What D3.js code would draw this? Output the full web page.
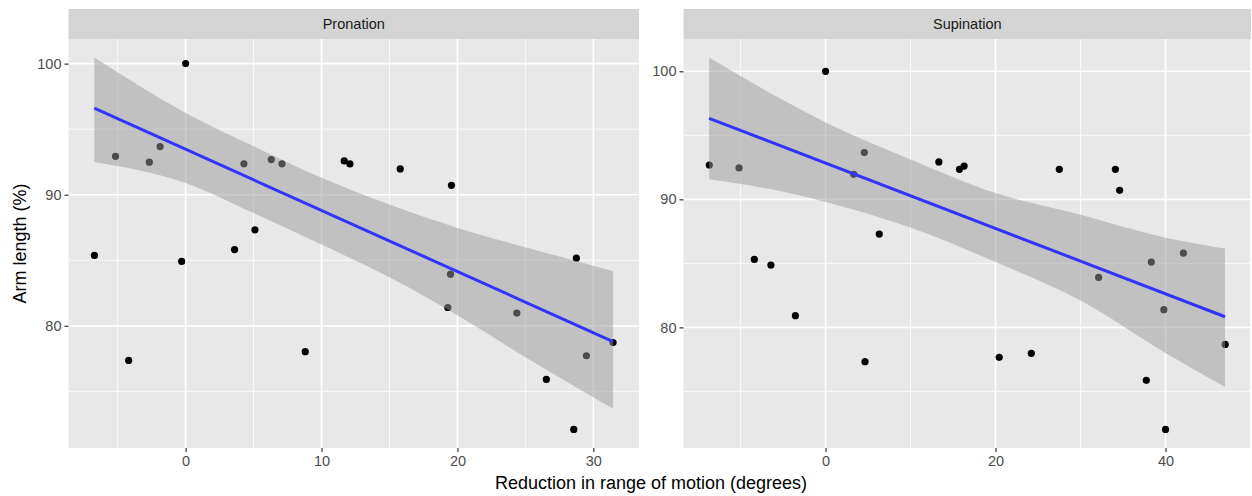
<!DOCTYPE html>
<html>
<head>
<meta charset="utf-8">
<script src="https://cdn.jsdelivr.net/npm/d3@7"></script>
<style>
  body { margin: 0; background: #fff; }
  text { font-family: "Liberation Sans", Arial, sans-serif; }
</style>
</head>
<body>
<svg id="chart" width="1252" height="496"></svg>
<script>
// points
var pronX = [-6.71, -5.16, -4.19, -2.67, -1.88, 0, -0.29, 3.6, 4.29, 5.1, 6.3, 7.09, 8.8,
             11.67, 12.09, 15.79, 19.56, 19.49, 19.29, 24.37, 26.54, 28.75, 28.56, 29.49, 31.45];
var pronY = [85.37, 92.93, 77.36, 92.48, 93.67, 100, 84.91, 85.82, 92.36, 87.32, 92.68, 92.36, 78.03,
             92.58, 92.35, 91.97, 90.72, 83.94, 81.4, 80.97, 75.91, 85.16, 72.1, 77.72, 78.73];

var supX = [-13.68, -10.18, 0, 3.31, 4.56, 6.32, 13.33, 15.75, 16.3, 27.5, 34.1, 34.6, -8.38,
            -6.43, -3.55, 4.64, 32.13, 38.32, 42.1, 39.8, 47.02, 20.43, 24.21, 37.74, 40.0];
var supY = [92.68, 92.45, 100, 91.95, 93.65, 87.29, 92.92, 92.34, 92.6, 92.34, 92.34, 90.7, 85.31,
            84.87, 80.91, 77.32, 83.9, 85.1, 85.8, 81.38, 78.67, 77.66, 77.97, 75.86, 72.03];

// fitted line and confidence band, also
var pronLineX = [-6.72, 31.45];
var pronLineY = [96.6, 78.8];
var pronBandX = [-6.72, 0, 5, 10, 15, 20, 25, 31.45];
var pronHi = [100.46, 96.24, 93.7, 91.29, 89.25, 87.47, 86.0, 84.17];
var pronLo = [92.5, 90.9, 88.6, 86.2, 83.7, 80.8, 77.6, 73.68];

var supLineX = [-13.7, 47.0];
var supLineY = [96.33, 80.83];
var supBandX = [-13.7, -5, 0, 10, 20, 30, 40, 47];
var supHi = [101.07, 97.75, 96.0, 93.12, 90.5, 88.8, 87.0, 86.15];
var supLo = [91.56, 90.6, 89.8, 87.8, 85.1, 82.1, 78.0, 75.34];

var facets = ["Pronation", "Supination"];
var pronXTicks = [0, 10, 20, 30];
var supXTicks = [0, 20, 40];
var yTicks = [80, 90, 100];

var svg = d3.select("#chart");
var plotTop = 39, plotBottom = 448, stripTop = 9;

var panels = [
  {name: facets[0], xs: pronX, ys: pronY, xTicks: pronXTicks, left: 68.5, right: 639,
   lineX: pronLineX, lineY: pronLineY, bandX: pronBandX, hi: pronHi, lo: pronLo},
  {name: facets[1], xs: supX, ys: supY, xTicks: supXTicks, left: 683.5, right: 1251,
   lineX: supLineX, lineY: supLineY, bandX: supBandX, hi: supHi, lo: supLo}
];

function expand(ext) {
  var w = ext[1] - ext[0];
  return [ext[0] - 0.05 * w, ext[1] + 0.05 * w];
}

function minors(ticks, domain) {
  var step = ticks[1] - ticks[0], out = [];
  for (var v = ticks[0] - step / 2; v >= domain[0]; v -= step) out.push(v);
  for (var w = ticks[0] + step / 2; w <= domain[1]; w += step) out.push(w);
  return out;
}

panels.forEach(function(p) {
  var x = d3.scaleLinear().domain(expand(d3.extent(p.xs))).range([p.left, p.right]);
  var y = d3.scaleLinear()
      .domain(expand(d3.extent(p.ys.concat(p.hi, p.lo))))
      .range([plotBottom, plotTop]);

  var g = svg.append("g");

  g.append("rect")
      .attr("x", p.left).attr("y", plotTop)
      .attr("width", p.right - p.left).attr("height", plotBottom - plotTop)
      .attr("fill", "#E8E8E8");

  // minor grid
  minors(p.xTicks, x.domain()).forEach(function(v) {
    g.append("line").attr("x1", x(v)).attr("x2", x(v)).attr("y1", plotTop).attr("y2", plotBottom)
        .attr("stroke", "#fff").attr("stroke-width", 0.8);
  });
  minors(yTicks, y.domain()).forEach(function(v) {
    g.append("line").attr("y1", y(v)).attr("y2", y(v)).attr("x1", p.left).attr("x2", p.right)
        .attr("stroke", "#fff").attr("stroke-width", 0.8);
  });
  // major grid
  p.xTicks.forEach(function(v) {
    g.append("line").attr("x1", x(v)).attr("x2", x(v)).attr("y1", plotTop).attr("y2", plotBottom)
        .attr("stroke", "#fff").attr("stroke-width", 1.6);
  });
  yTicks.forEach(function(v) {
    g.append("line").attr("y1", y(v)).attr("y2", y(v)).attr("x1", p.left).attr("x2", p.right)
        .attr("stroke", "#fff").attr("stroke-width", 1.6);
  });

  g.selectAll("circle")
    .data(p.xs)
    .enter().append("circle")
      .attr("cx", function(d) { return x(d); })
      .attr("cy", function(d, i) { return y(p.ys[i]); })
      .attr("r", 3.6)
      .attr("fill", "#000");

  g.append("path")
      .datum(p.bandX)
      .attr("fill", "#999999")
      .attr("fill-opacity", 0.5)
      .attr("d", d3.area()
        .curve(d3.curveMonotoneX)
        .x(function(d) { return x(d); })
        .y0(function(d, i) { return y(p.lo[i]); })
        .y1(function(d, i) { return y(p.hi[i]); }));

  g.append("path")
      .datum(p.lineX)
      .attr("fill", "none")
      .attr("stroke", "#3333FF")
      .attr("stroke-width", 3)
      .attr("d", d3.line()
        .x(function(d) { return x(d); })
        .y(function(d, i) { return y(p.lineY[i]); }));

  // strip
  g.append("rect")
      .attr("x", p.left).attr("y", stripTop)
      .attr("width", p.right - p.left).attr("height", plotTop - stripTop)
      .attr("fill", "#D4D4D4");
  g.append("text")
      .attr("x", (p.left + p.right) / 2).attr("y", (stripTop + plotTop) / 2)
      .attr("dy", "0.35em")
      .style("text-anchor", "middle")
      .style("font-size", "14.5px")
      .attr("fill", "#1A1A1A")
      .text(p.name);

  // axes
  var xa = g.append("g")
      .attr("transform", "translate(0," + plotBottom + ")")
      .call(d3.axisBottom(x).tickValues(p.xTicks).tickSize(4).tickPadding(4).tickFormat(d3.format("d")));
  var ya = g.append("g")
      .attr("transform", "translate(" + p.left + ",0)")
      .call(d3.axisLeft(y).tickValues(yTicks).tickSize(4).tickPadding(3).tickFormat(d3.format("d")));
  [xa, ya].forEach(function(a) {
    a.select(".domain").remove();
    a.selectAll(".tick line").attr("stroke", "#333333").attr("stroke-width", 1.2);
    a.selectAll(".tick text").attr("fill", "#4D4D4D")
        .style("font-size", "14.5px").style("font-family", "'Liberation Sans', Arial, sans-serif");
  });
});

// axis titles
svg.append("text")
    .attr("x", 651).attr("y", 489)
    .style("text-anchor", "middle")
    .style("font-size", "18px")
    .text("Reduction in range of motion (degrees)");

svg.append("text")
    .attr("transform", "translate(26," + ((plotTop + plotBottom) / 2) + ") rotate(-90)")
    .style("text-anchor", "middle")
    .style("font-size", "18px")
    .text("Arm length (%)");
</script>
</body>
</html>
